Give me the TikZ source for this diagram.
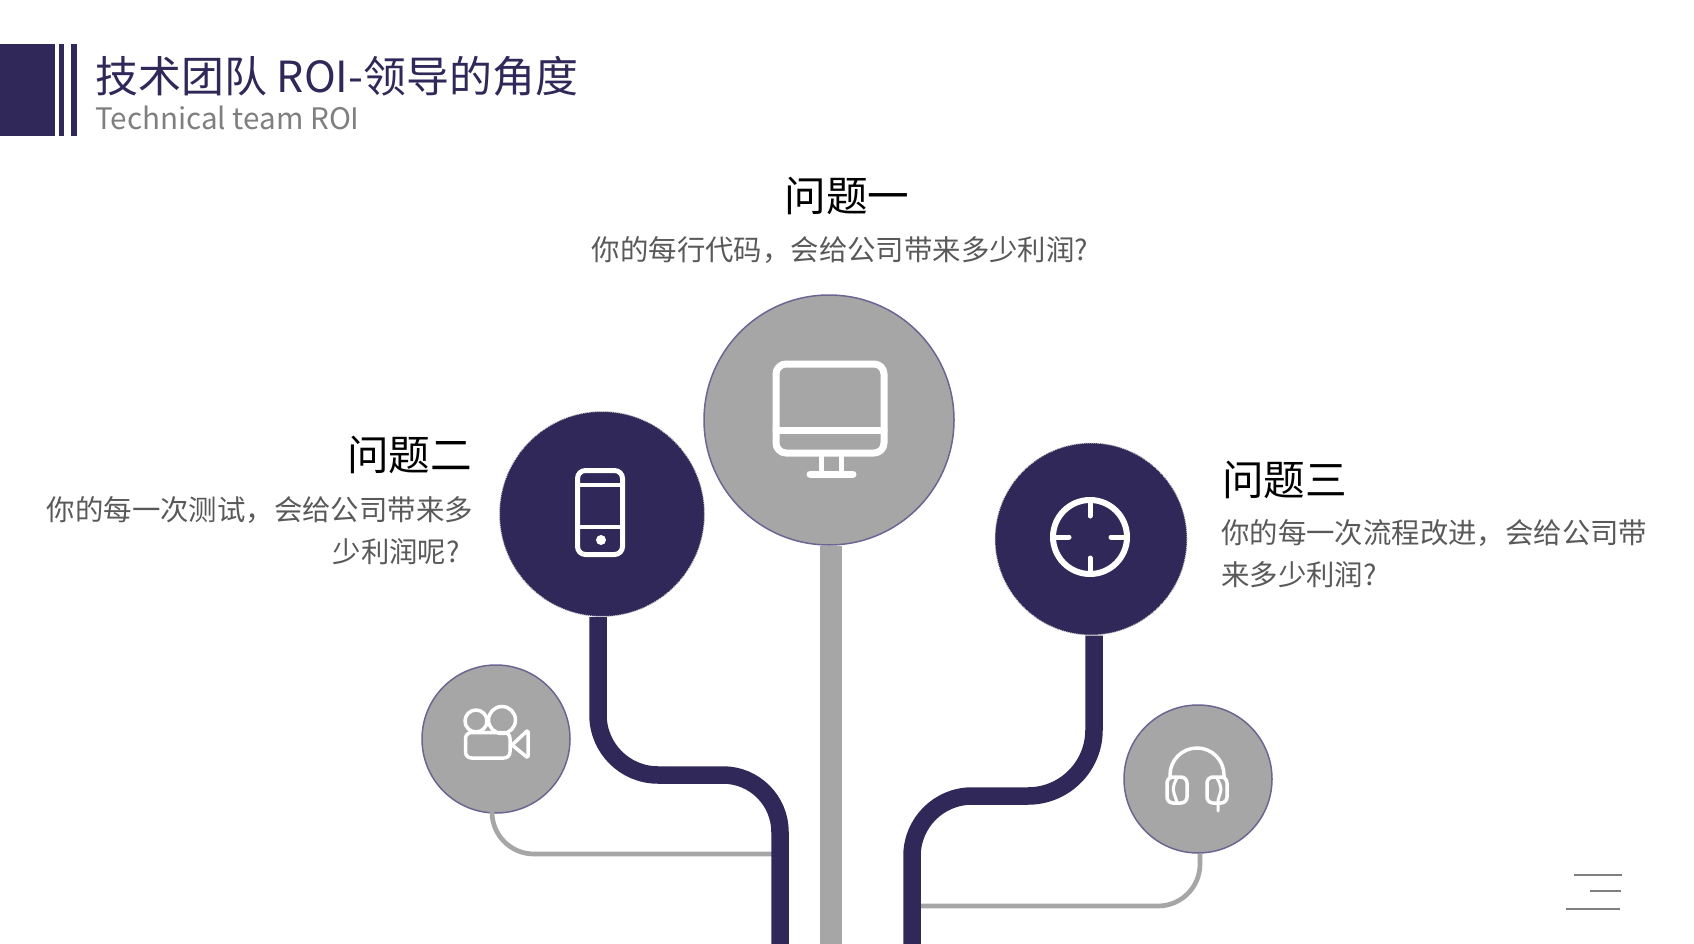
\documentclass[tikz,border=0pt]{standalone}
\usepackage{fontspec}
\setmainfont{Noto Sans CJK SC}
\usetikzlibrary{positioning, calc}
\definecolor{darkblue}{HTML}{2F2858}
\definecolor{stemgray}{HTML}{A6A6A6}
\definecolor{ringblue}{HTML}{6B6591}
\definecolor{subgray}{HTML}{7F7F7F}
\definecolor{bodygray}{HTML}{595959}

\begin{document}
\begin{tikzpicture}[
			x=1pt, y=-1pt,
			grayball/.style={
					circle, draw=ringblue, fill=stemgray, line width=1.5pt, inner sep=0pt
				},
			darkball/.style={
					circle, draw=white!80!black, fill=darkblue, line width=1pt,
					dash pattern=on 1pt off 1pt, inner sep=0pt
				},
			heading/.style={
					font=\fontsize{41.6}{48}\selectfont, text=black, inner sep=0pt
				},
			bodytext/.style={
					font=\fontsize{28.4}{42}\selectfont, text=bodygray, inner sep=0pt
				},
			icon/.style={draw=white, line cap=round, line join=round},
			thinstem/.style={draw=stemgray, line width=4.7pt},
			thickstem/.style={draw=darkblue, line width=17.5pt}
		]
		\useasboundingbox (0,0) rectangle (1694,944);

		% Header bars and titles
		\fill[darkblue] (0,44) rectangle (55,136);
		\fill[darkblue] (59,44) rectangle (64,136);
		\fill[darkblue] (71,44) rectangle (77,136);
		\node[anchor=west, inner sep=0pt, text=darkblue, font=\fontsize{42.9}{50}\selectfont] (title) at (95.5,76) {技术团队 ROI-领导的角度};
		\node[anchor=west, inner sep=0pt, text=subgray, font=\fontsize{29.6}{36}\selectfont] (subtitle) at (95,118) {Technical team ROI};

		% Balls
		\node[grayball, minimum size=250pt] (monitor) at (829,420) {};
		\node[darkball, minimum size=205pt] (phone) at (602,514) {};
		\node[darkball, minimum size=192pt] (target) at (1091,539) {};
		\node[grayball, minimum size=148pt] (camera) at (496,739) {};
		\node[grayball, minimum size=148pt] (headset) at (1198,779) {};

		% Questions
		\node[heading, anchor=center] (qone) at (847,196) {问题一};
		\node[bodytext, anchor=center] (tone) at (840,250) {你的每行代码，会给公司带来多少利润?};
		\node[heading, anchor=east] (qtwo) at (472,455) {问题二};
		\node[bodytext, anchor=north east, align=right] (ttwo) at (473,496) {你的每一次测试，会给公司带来多\\少利润呢?\hspace*{13pt}};
		\node[heading, anchor=west] (qthree) at (1222,480) {问题三};
		\node[bodytext, anchor=north west, align=left] (tthree) at (1221,519) {你的每一次流程改进，会给公司带\\来多少利润?};

		% Free ends of the branches
		\coordinate (trunkc) at (831,944);
		\coordinate (trunkl) at (780,944);
		\coordinate (trunkr) at (912,944);
		\coordinate (stemphone) at (598,600);
		\coordinate (stemtarget) at (1094,600);
		\coordinate (stemcamera) at (492,800);
		\coordinate (stemheadset) at (1200,800);
		\coordinate (joinl) at (780,854);
		\coordinate (joinr) at (912,906);

		% Branches
		\draw[thinstem, rounded corners=42pt] (camera.south -| stemcamera) |- (joinl);
		\draw[thinstem, rounded corners=42pt] (headset.south -| stemheadset) |- (joinr);
		\draw[draw=stemgray, line width=22pt] (monitor.south -| trunkc) -- (trunkc);
		\draw[thickstem] (phone.south -| stemphone) -- (598,715) arc[start angle=180, end angle=90, radius=60] -- (723,775) arc[start angle=270, end angle=360, radius=57] -- (trunkl);
		\draw[thickstem] (target.south -| stemtarget) -- (1094,730) arc[start angle=0, end angle=90, radius=66] -- (972,796) arc[start angle=270, end angle=180, radius=60] -- (trunkr);

		% Monitor icon
		\draw[icon, line width=7pt, rounded corners=10pt] (776,364) rectangle (884,453);
		\draw[icon, line width=7pt] (776,430) -- (884,430);
		\draw[icon, line width=5pt] (821,456) -- (821,473);
		\draw[icon, line width=5pt] (841,456) -- (841,473);
		\draw[icon, line width=7pt] (810,474) -- (853,474);

		% Phone icon
		\draw[icon, line width=5pt, rounded corners=8pt] (577.5,470.5) rectangle (622.5,554.5);
		\draw[icon, line width=4pt] (577.5,485) -- (622.5,485);
		\draw[icon, line width=4pt] (577.5,527) -- (622.5,527);
		\fill[white] (601,540) circle (5);

		% Target icon
		\draw[icon, line width=6pt] (1090,537) circle (37);
		\draw[icon, line width=5pt] (1090,500) -- (1090,516);
		\draw[icon, line width=5pt] (1090,558) -- (1090,574);
		\draw[icon, line width=5pt] (1053,537) -- (1069,537);
		\draw[icon, line width=5pt] (1111,537) -- (1127,537);

		% Camera icon
		\draw[icon, line width=3.5pt, rounded corners=6pt] (465.5,732.5) rectangle (510,758);
		\draw[icon, line width=3.5pt] (476,721) circle (11);
		\draw[icon, line width=3.5pt] (502,720) circle (13.5);
		\draw[icon, line width=3.5pt, rounded corners=2pt] (512,745) -- (528,730) -- (528,758) -- cycle;

		% Headset icon
		\draw[icon, line width=3.5pt] (1170,777) -- (1170,775) arc[start angle=180, end angle=360, radius=27] -- (1224,777);
		\draw[icon, line width=3.5pt, rounded corners=6pt] (1167,777) rectangle (1187,803);
		\draw[icon, line width=3.5pt, rounded corners=6pt] (1207,777) rectangle (1227,803);
		\draw[icon, line width=3pt] (1177,778) .. controls (1172,788) .. (1177,802);
		\draw[icon, line width=3pt] (1217,778) .. controls (1222,788) .. (1218,800) -- (1218,811);

		% Corner lines
		\draw[draw=subgray, line width=2pt] (1574,875) -- (1622,875);
		\draw[draw=subgray, line width=2pt] (1590,891) -- (1621,891);
		\draw[draw=subgray, line width=2pt] (1566,909) -- (1620,909);

	\end{tikzpicture}
\end{document}
